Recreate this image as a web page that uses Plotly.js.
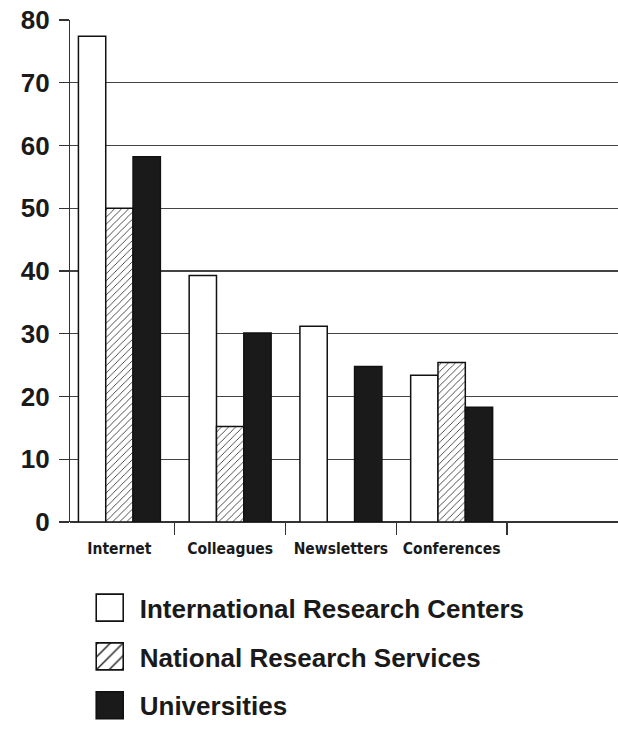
<!DOCTYPE html>
<html>
<head>
<meta charset="utf-8">
<script src="https://cdn.plot.ly/plotly-3.0.1.min.js"></script>
<style>
html,body{margin:0;padding:0;background:#fff;}
#chart{width:618px;height:733px;}
</style>
</head>
<body>
<div id="chart"></div>
<script>
const categories = ["Internet", "Colleagues", "Newsletters", "Conferences"];
const intlCenters = [77.4, 39.3, 31.2, 23.4];
const nationalServices = [50.0, 15.2, null, 25.4];
const universities = [58.2, 30.1, 24.8, 18.3];
const seriesNames = ["International Research Centers", "National Research Services", "Universities"];
const yTicks = [0, 10, 20, 30, 40, 50, 60, 70, 80];

const outline = {color: "#111", width: 1.5};
const traces = [
  {type: "bar", name: seriesNames[0], x: categories, y: intlCenters, legendgroup: "a",
   marker: {color: "#ffffff", line: outline}},
  {type: "bar", name: seriesNames[1], x: categories, y: nationalServices, legendgroup: "b",
   marker: {color: "#ffffff", line: outline,
            pattern: {shape: "/", fgcolor: "#222", bgcolor: "#ffffff", size: 5, solidity: 0.16}}},
  {type: "bar", name: seriesNames[2], x: categories, y: universities, legendgroup: "c",
   marker: {color: "#1a1a1a", line: outline}}
];

const layout = {
  width: 618, height: 733,
  paper_bgcolor: "#ffffff", plot_bgcolor: "#ffffff",
  margin: {l: 70, r: 0, t: 20, b: 211, autoexpand: false},
  barmode: "group", bargap: 0.26, bargroupgap: 0,
  showlegend: true,
  legend: {
    orientation: "v", traceorder: "grouped", tracegroupgap: 12, itemwidth: 50,
    xref: "container", yref: "container", x: 0.129, y: 0.203, xanchor: "left", yanchor: "top",
    font: {family: "Liberation Sans, Arial, sans-serif", size: 26, color: "#1a1a1a", weight: "bold"},
    bgcolor: "rgba(0,0,0,0)"
  },
  xaxis: {
    type: "category", categoryarray: categories, categoryorder: "array",
    range: [-0.446, 4.502], tickangle: 0,
    tickson: "boundaries", ticks: "outside", ticklen: 12, tickwidth: 1.2, tickcolor: "#333",
    showline: false, showgrid: false, zeroline: false,
    tickfont: {family: "Liberation Sans Narrow, DejaVu Sans Condensed, Arial Narrow, sans-serif", size: 15.5, color: "#1a1a1a", weight: "bold"},
    ticklabelstandoff: 15,
    fixedrange: true
  },
  yaxis: {
    range: [0, 80], tickvals: yTicks, ticktext: yTicks.map(String),
    ticks: "outside", ticklen: 10, tickwidth: 1.2, tickcolor: "#333",
    showline: true, linecolor: "#333", linewidth: 1.2,
    showgrid: true, gridcolor: "#444", gridwidth: 1.3,
    zeroline: true, zerolinecolor: "#333", zerolinewidth: 1.3,
    tickfont: {family: "Liberation Sans, Arial, sans-serif", size: 26, color: "#1a1a1a", weight: "bold"},
    ticklabelstandoff: 4,
    fixedrange: true
  }
};

Plotly.newPlot("chart", traces, layout, {displayModeBar: false, staticPlot: true}).then(function () {
  document.querySelectorAll("#chart .legend .legendpoints path").forEach(function (p) {
    const t = p.getAttribute("transform") || "translate(20,0)";
    p.setAttribute("transform", t + " scale(2.25)");
    p.style.strokeWidth = "0.7px";
  });
});
</script>
</body>
</html>
